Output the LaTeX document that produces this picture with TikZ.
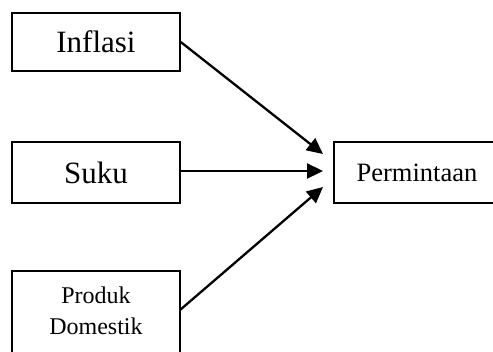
\documentclass[tikz,border=0pt]{standalone}
\usepackage{fontspec}
\setmainfont{Liberation Serif}
\usetikzlibrary{arrows.meta}
\begin{document}
\begin{tikzpicture}[x=1pt,y=-1pt,
  box/.style={draw, line width=1.5pt, inner sep=0pt, minimum width=168pt},
  conn/.style={line width=2.3pt, -{Triangle[length=16pt,width=15pt]}}]
\useasboundingbox (0,0) rectangle (493,351);
\clip (0,0) rectangle (493,351);
\node[box, minimum height=58pt, font=\fontsize{31}{36}\selectfont] (inf) at (96,42) {Inflasi};
\node[box, minimum height=61pt, font=\fontsize{31}{36}\selectfont] (suku) at (96,172.5) {Suku};
\node[box, minimum height=110pt, anchor=north] (prod) at (96,270) {};
\node[align=center, anchor=base, font=\fontsize{24}{31}\selectfont] (prodt) at (96,334) {Produk\\Domestik};
\node[box, minimum height=61pt, minimum width=200pt, anchor=west] (perm) at (333,172.5) {};
\node[font=\fontsize{26.5}{32}\selectfont] (permt) at (417,172.5) {Permintaan};
\coordinate (t1) at (323,154);
\coordinate (t2) at (323,171);
\coordinate (t3) at (323,187);
\coordinate (s3) at (180,310);
\draw[conn] (inf.east) -- (t1);
\draw[conn] (suku.east |- t2) -- (t2);
\draw[conn] (s3) -- (t3);
\end{tikzpicture}
\end{document}
